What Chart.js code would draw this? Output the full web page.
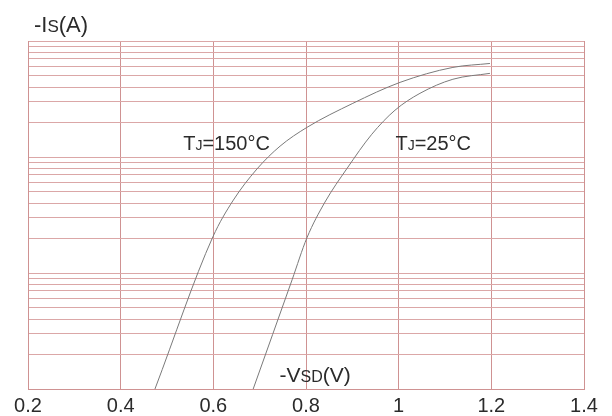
<!DOCTYPE html>
<html>
<head>
<meta charset="utf-8">
<title>-Is vs -Vsd</title>
<script src="https://cdn.jsdelivr.net/npm/chart.js@4/dist/chart.umd.min.js"></script>
<style>
  body { margin: 0; background: #fff; }
  #wrap { width: 612px; height: 416px; }
</style>
</head>
<body>
<div id="wrap"><canvas id="diode-chart" width="612" height="416"></canvas></div>
<script>
'use strict';

// forward voltage (V) and source current (A)
const vsd150 = [0.474, 0.599, 0.642, 0.694, 0.744, 0.802, 0.901, 1.003, 1.117, 1.197];
const is150 = [0.1, 2.05, 4.18, 7.87, 12.4, 18.0, 29.0, 44.0, 59.2, 64.0];
const vsd25 = [0.686, 0.770, 0.802, 0.841, 0.889, 0.942, 0.992, 1.046, 1.117, 1.197];
const is25 = [0.1, 0.874, 2.01, 4.09, 8.02, 15.7, 25.3, 35.4, 46.8, 52.6];

const xTickValues = [0.2, 0.4, 0.6, 0.8, 1.0, 1.2, 1.4];
const xTickLabels = ['0.2', '0.4', '0.6', '0.8', '1', '1.2', '1.4'];
const yDecades = [0.1, 1, 10];
const yMantissas = [1, 2, 3, 4, 5, 6, 7, 8, 9];
const yMin = 0.1;
const yMax = 100;

let yGridValues = [];
for (let d = 0; d < yDecades.length; d++) {
  for (let m = 0; m < yMantissas.length; m++) {
    yGridValues.push(yDecades[d] * yMantissas[m]);
  }
}
yGridValues.push(yMax);

const toPoints = function(xs, ys) {
  let pts = [];
  for (let i = 0; i < xs.length; i++) {
    pts.push({ x: xs[i], y: ys[i] });
  }
  return pts;
};

const FONT = '"Liberation Sans", Arial, sans-serif';
const TEXT_COLOR = '#2b2b2b';
const GRID_H = '#dba7a7';
const GRID_V = '#cf9292';

// draws a label made of parts of different sizes (small caps subscripts)
const drawParts = function(ctx, parts, x, y) {
  let cx = x;
  for (let i = 0; i < parts.length; i++) {
    ctx.font = parts[i].s + 'px ' + FONT;
    ctx.fillText(parts[i].t, cx, y);
    cx += ctx.measureText(parts[i].t).width;
  }
};

const labelPlugin = {
  id: 'labels',
  afterDatasetsDraw(chart) {
    const ctx = chart.ctx;
    const xs = chart.scales.x;
    const ys = chart.scales.y;
    ctx.save();
    ctx.fillStyle = TEXT_COLOR;
    ctx.textBaseline = 'alphabetic';
    ctx.textAlign = 'left';

    drawParts(ctx, [{ t: '-I', s: 22 }, { t: 'S', s: 17 }, { t: '(A)', s: 22 }], 34, 32);

    drawParts(ctx, [{ t: 'T', s: 20 }, { t: 'J', s: 14 }, { t: '=150°C', s: 20 }],
      xs.getPixelForValue(0.535), ys.getPixelForValue(11.4));
    drawParts(ctx, [{ t: 'T', s: 20 }, { t: 'J', s: 14 }, { t: '=25°C', s: 20 }],
      xs.getPixelForValue(0.993), ys.getPixelForValue(11.4));
    drawParts(ctx, [{ t: '-V', s: 21 }, { t: 'SD', s: 16 }, { t: '(V)', s: 21 }],
      xs.getPixelForValue(0.743), ys.getPixelForValue(0.116));
    ctx.restore();
  }
};

const ctx = document.getElementById('diode-chart').getContext('2d');

const myChart = new Chart(ctx, {
  type: 'scatter',
  data: {
    datasets: [{
      label: 'TJ=150°C',
      data: toPoints(vsd150, is150),
      showLine: true,
      borderColor: '#7a7a7a',
      borderWidth: 1,
      pointRadius: 0,
      cubicInterpolationMode: 'monotone'
    }, {
      label: 'TJ=25°C',
      data: toPoints(vsd25, is25),
      showLine: true,
      borderColor: '#7a7a7a',
      borderWidth: 1,
      pointRadius: 0,
      cubicInterpolationMode: 'monotone'
    }]
  },
  options: {
    responsive: false,
    animation: false,
    layout: { padding: { left: 28, right: 28, top: 41, bottom: 0 } },
    plugins: {
      legend: { display: false },
      tooltip: { enabled: false }
    },
    scales: {
      x: {
        type: 'linear',
        min: 0.2,
        max: 1.4,
        afterBuildTicks: function(scale) {
          scale.ticks = xTickValues.map(function(v) { return { value: v }; });
        },
        afterFit: function(scale) {
          scale.height = 27;
        },
        ticks: {
          autoSkip: false,
          maxRotation: 0,
          padding: 8,
          color: TEXT_COLOR,
          font: { family: FONT, size: 20, lineHeight: '19px' },
          callback: function(value, index) { return xTickLabels[index]; }
        },
        grid: { color: GRID_V, drawTicks: false, lineWidth: 1 },
        border: { color: GRID_V }
      },
      y: {
        type: 'logarithmic',
        min: yMin,
        max: yMax,
        afterBuildTicks: function(scale) {
          scale.ticks = yGridValues.map(function(v) { return { value: v }; });
        },
        afterFit: function(scale) {
          scale.width = 0;
        },
        ticks: { display: false },
        grid: { color: GRID_H, drawTicks: false, lineWidth: 1 },
        border: { color: GRID_V }
      }
    }
  },
  plugins: [labelPlugin]
});
</script>
</body>
</html>
